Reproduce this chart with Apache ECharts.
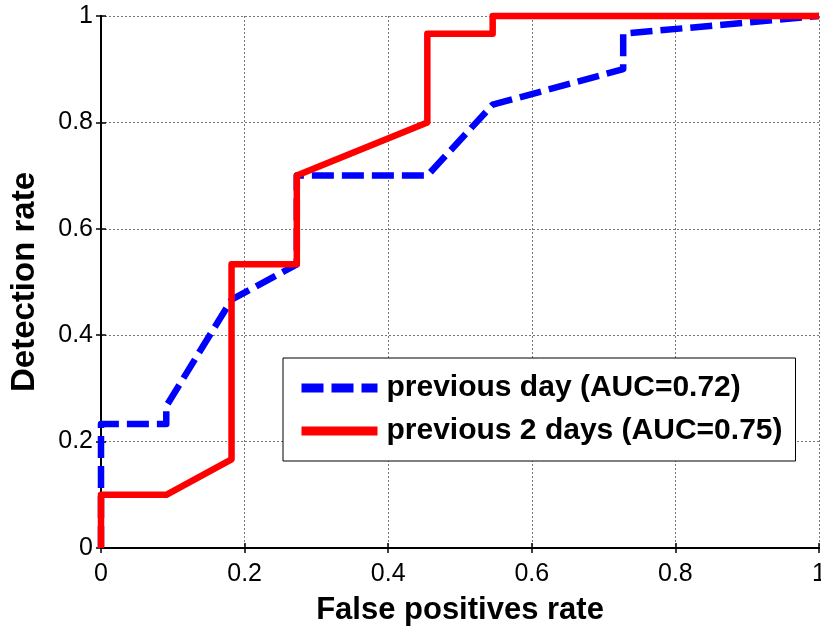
<!DOCTYPE html>
<html>
<head>
<meta charset="utf-8">
<script src="https://cdn.jsdelivr.net/npm/echarts@6/dist/echarts.min.js"></script>
<style>html,body{margin:0;padding:0;background:#fff}#c{width:821px;height:632px}</style>
</head>
<body>
<div id="c"></div>
<script>
var seriesNames = ['previous day (AUC=0.72)', 'previous 2 days (AUC=0.75)'];
var prevDayX = [0, 0, 0.0909, 0.0909, 0.1818, 0.2727, 0.2727, 0.4545, 0.5455, 0.7273, 0.7273, 1];
var prevDayY = [0, 0.2333, 0.2333, 0.2667, 0.4667, 0.5333, 0.7, 0.7, 0.8333, 0.9, 0.9667, 1];
var prev2DaysX = [0, 0, 0.0909, 0.1818, 0.1818, 0.2727, 0.2727, 0.4545, 0.4545, 0.5455, 0.5455, 1];
var prev2DaysY = [0, 0.1, 0.1, 0.1667, 0.5333, 0.5333, 0.7, 0.8, 0.9667, 0.9667, 1, 1];
var tickValues = [0, 0.2, 0.4, 0.6, 0.8, 1];
var xTitle = 'False positives rate';
var yTitle = 'Detection rate';

function pairs(xs, ys) { return xs.map(function (x, i) { return [x, ys[i]]; }); }
function fmt(v) { return String(Math.round(v * 10) / 10); }

var FONT = '"Liberation Sans", Arial, sans-serif';
var chart = echarts.init(document.getElementById('c'), null, { renderer: 'canvas' });

var baseAxis = {
  type: 'value', min: 0, max: 1, interval: 0.2,
  axisLine: { show: true, lineStyle: { color: '#000', width: 2 } },
  axisTick: { show: true, inside: true, length: 5, lineStyle: { color: '#000', width: 1.5 } }
};

chart.setOption({
  animation: false,
  backgroundColor: '#fff',
  grid: { left: 101, right: 2, top: 16, bottom: 84, containLabel: false, outerBoundsMode: 'none' },
  xAxis: [
    Object.assign({}, baseAxis, {
      position: 'bottom',
      name: xTitle, nameLocation: 'middle', nameGap: 47,
      nameTextStyle: { fontFamily: FONT, fontWeight: 'bold', fontSize: 31, color: '#000' },
      axisLabel: { fontFamily: FONT, fontSize: 25, color: '#000', margin: 14,
        alignMaxLabel: 'center', hideOverlap: false, formatter: fmt },
      splitLine: { show: true, lineStyle: { color: '#777', type: [2, 2], width: 1 } }
    }),
    Object.assign({}, baseAxis, {
      position: 'top', axisLabel: { show: false }, splitLine: { show: false }
    })
  ],
  yAxis: [
    Object.assign({}, baseAxis, {
      position: 'left',
      name: yTitle, nameLocation: 'middle', nameGap: 60,
      nameTextStyle: { fontFamily: FONT, fontWeight: 'bold', fontSize: 33, color: '#000' },
      axisLabel: { fontFamily: FONT, fontSize: 25, color: '#000', margin: 8, formatter: fmt },
      splitLine: { show: true, lineStyle: { color: '#777', type: [2, 2], width: 1 } }
    }),
    Object.assign({}, baseAxis, {
      position: 'right', axisLabel: { show: false }, splitLine: { show: false }
    })
  ],
  legend: {
    orient: 'vertical',
    left: 283, top: 358,
    padding: [15, 13, 15, 14],
    itemGap: 13,
    itemWidth: 76, itemHeight: 30,
    backgroundColor: '#fff',
    borderColor: '#000', borderWidth: 1,
    lineStyle: { width: 9 },
    textStyle: { fontFamily: FONT, fontWeight: 'bold', fontSize: 30, color: '#000', padding: [0, 0, 0, 4] },
    data: seriesNames
  },
  series: [
    {
      name: seriesNames[0], type: 'line', data: pairs(prevDayX, prevDayY),
      symbol: 'none', clip: false, z: 3,
      lineStyle: { color: '#0000ff', width: 6.5, type: [22, 8], cap: 'butt', join: 'round' },
      itemStyle: { color: 'rgba(0,0,0,0)' }
    },
    {
      name: seriesNames[1], type: 'line', data: pairs(prev2DaysX, prev2DaysY),
      symbol: 'none', clip: false, z: 4,
      lineStyle: { color: '#ff0000', width: 6.5, type: 'solid', join: 'round' },
      itemStyle: { color: 'rgba(0,0,0,0)' }
    }
  ]
});
</script>
</body>
</html>
